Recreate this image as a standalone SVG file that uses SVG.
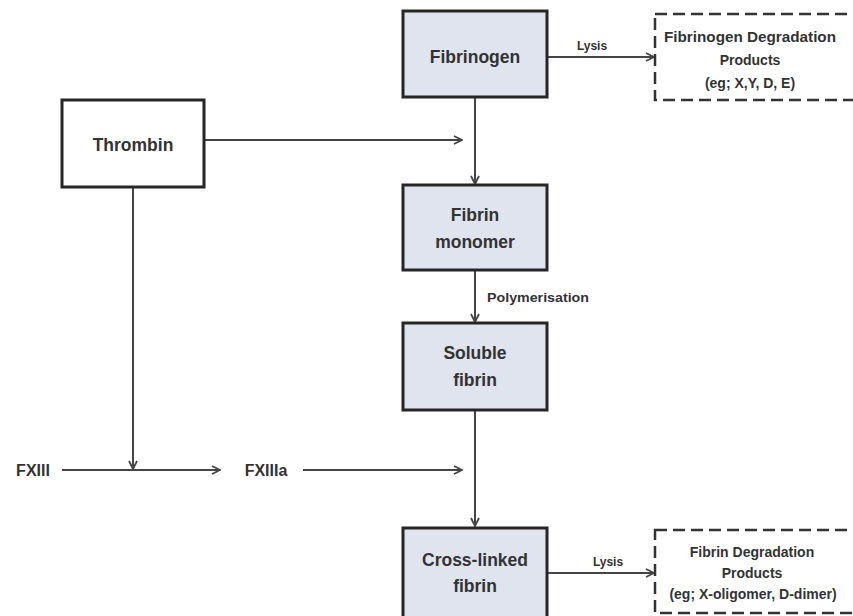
<svg xmlns="http://www.w3.org/2000/svg" width="853" height="616" viewBox="0 0 853 616">
  <style>
    .box { fill: #dfe4ee; stroke: #262626; stroke-width: 3; }
    .plain { fill: #ffffff; stroke: #262626; stroke-width: 3; }
    .dash { fill: #ffffff; stroke: #333333; stroke-width: 2.5; stroke-dasharray: 12 6; }
    .lbl { font-family: "Liberation Sans", Arial, sans-serif; font-weight: bold; fill: #333333; text-anchor: middle; }
    .big { font-size: 17.5px; }
    .small { font-size: 14px; }
    .tiny { font-size: 12px; }
    .fx { font-size: 16px; }
    .line { fill: none; stroke: #454545; stroke-width: 2; }
  </style>
  <defs>
    <marker id="arrow" viewBox="0 0 10 10" refX="9" refY="5" markerWidth="10" markerHeight="10" markerUnits="userSpaceOnUse" orient="auto">
      <path d="M1,1 L9,5 L1,9" fill="none" stroke="#454545" stroke-width="1.8"/>
    </marker>
  </defs>
  <rect width="853" height="616" fill="#ffffff"/>

  <!-- connectors -->
  <g id="connectors">
    <line class="line" x1="475" y1="97" x2="475" y2="184" marker-end="url(#arrow)"/>
    <line class="line" x1="204" y1="140" x2="462" y2="140" marker-end="url(#arrow)"/>
    <line class="line" x1="475" y1="270" x2="475" y2="322" marker-end="url(#arrow)"/>
    <line class="line" x1="475" y1="410" x2="475" y2="526" marker-end="url(#arrow)"/>
    <line class="line" x1="133" y1="187" x2="133" y2="469" marker-end="url(#arrow)"/>
    <line class="line" x1="62" y1="470" x2="220" y2="470" marker-end="url(#arrow)"/>
    <line class="line" x1="303" y1="470" x2="462" y2="470" marker-end="url(#arrow)"/>
    <line class="line" x1="547" y1="57" x2="654" y2="57" marker-end="url(#arrow)"/>
    <line class="line" x1="547" y1="573" x2="654" y2="573" marker-end="url(#arrow)"/>
    <text class="lbl tiny" x="592" y="50">Lysis</text>
    <text class="lbl tiny" x="608" y="566">Lysis</text>
    <text class="lbl tiny" x="538" y="302" textLength="102" lengthAdjust="spacingAndGlyphs">Polymerisation</text>
  </g>

  <g id="fibrinogen">
    <rect class="box" x="403" y="11" width="144" height="86"/>
    <text class="lbl big" x="475" y="63">Fibrinogen</text>
  </g>

  <g id="fibrinogen-fdp">
    <rect class="dash" x="655" y="14" width="210" height="86"/>
    <text class="lbl small" x="750" y="42" textLength="172" lengthAdjust="spacingAndGlyphs">Fibrinogen Degradation</text>
    <text class="lbl small" x="750" y="65">Products</text>
    <text class="lbl small" x="750" y="88">(eg; X,Y, D, E)</text>
  </g>

  <g id="thrombin">
    <rect class="plain" x="62" y="100" width="142" height="87"/>
    <text class="lbl big" x="133" y="151">Thrombin</text>
  </g>

  <g id="fibrin-monomer">
    <rect class="box" x="403" y="185" width="144" height="85"/>
    <text class="lbl big" x="475" y="221">Fibrin</text>
    <text class="lbl big" x="475" y="248">monomer</text>
  </g>

  <g id="soluble-fibrin">
    <rect class="box" x="403" y="323" width="144" height="87"/>
    <text class="lbl big" x="475" y="359">Soluble</text>
    <text class="lbl big" x="475" y="386">fibrin</text>
  </g>

  <g id="fxiii">
    <text class="lbl fx" x="33" y="476">FXIII</text>
  </g>

  <g id="fxiiia">
    <text class="lbl fx" x="266" y="476">FXIIIa</text>
  </g>

  <g id="cross-linked-fibrin">
    <rect class="box" x="403" y="528" width="144" height="100"/>
    <text class="lbl big" x="475" y="566">Cross-linked</text>
    <text class="lbl big" x="475" y="592">fibrin</text>
  </g>

  <g id="fibrin-fdp">
    <rect class="dash" x="655" y="530" width="210" height="83"/>
    <text class="lbl small" x="752" y="557">Fibrin Degradation</text>
    <text class="lbl small" x="752" y="578">Products</text>
    <text class="lbl small" x="753" y="599">(eg; X-oligomer, D-dimer)</text>
  </g>
</svg>
